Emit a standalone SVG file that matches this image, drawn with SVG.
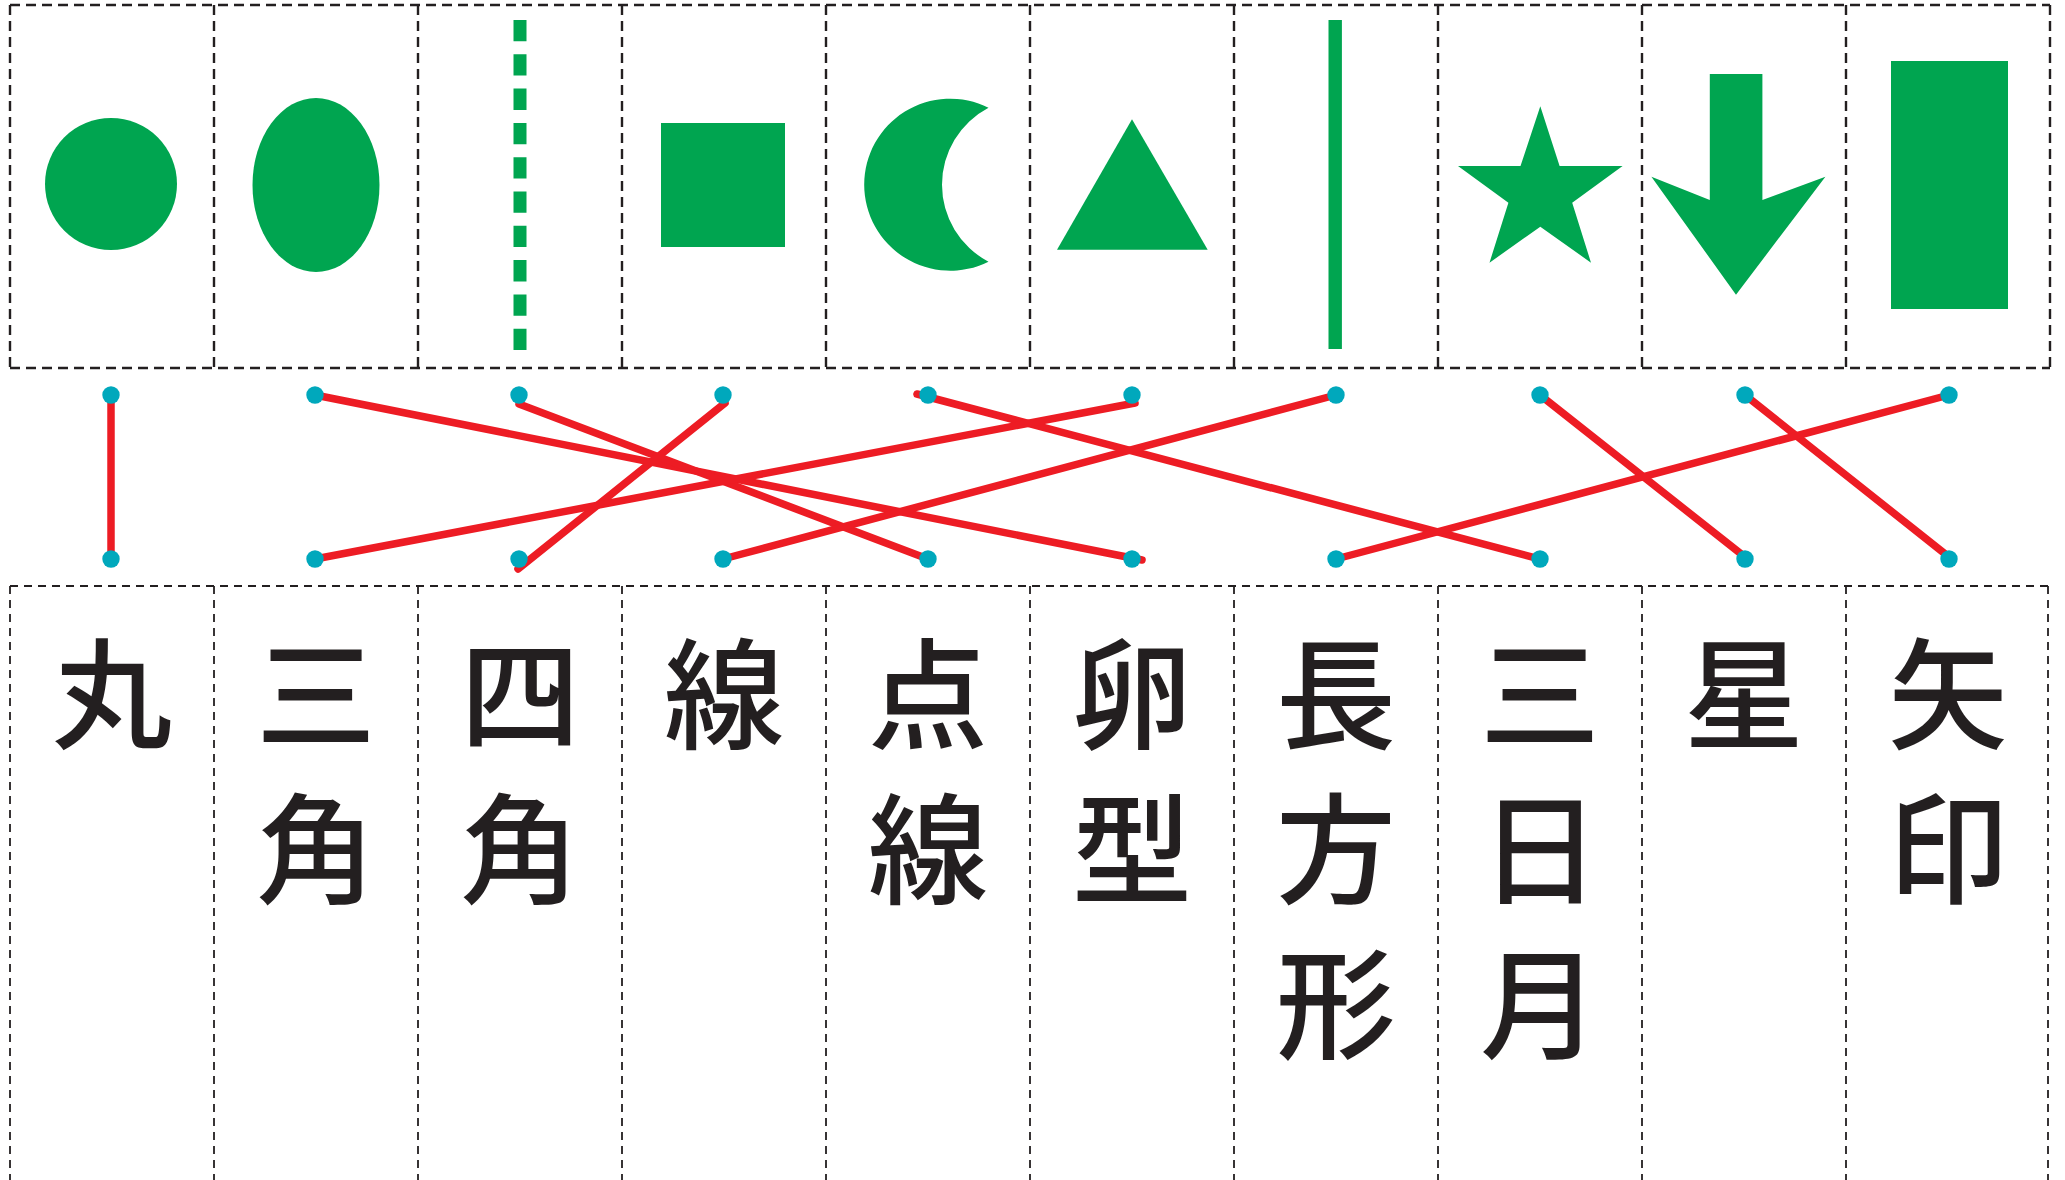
<svg xmlns="http://www.w3.org/2000/svg" width="2065" height="1180" viewBox="0 0 2065 1180">
<style>
.cell{fill:none;stroke:#231f20;stroke-width:2.4;stroke-dasharray:10 6}
.cellb{fill:none;stroke:#231f20;stroke-width:1.8;stroke-dasharray:8 6}
.g{fill:#00a550}
.lbl{font-family:"Noto Sans CJK JP","Noto Sans CJK SC",sans-serif;font-size:120px;font-weight:500;fill:#231f20;text-anchor:middle}
.c{stroke:#ed1c24;stroke-width:7.5;stroke-linecap:round;fill:none}
.d{fill:#00a8bc}
</style>
<rect width="2065" height="1180" fill="#fff"/>
<g id="grid">
<path class="cell" d="M10,5H2050M10,368H2050M10,5V368M214,5V368M418,5V368M622,5V368M826,5V368M1030,5V368M1234,5V368M1438,5V368M1642,5V368M1846,5V368M2050,5V368"/>
<path class="cellb" d="M10,586H2048M10,586V1180M214,586V1180M418,586V1180M622,586V1180M826,586V1180M1030,586V1180M1234,586V1180M1438,586V1180M1642,586V1180M1846,586V1180M2048,586V1180"/>
</g>
<g id="shape-circle"><circle class="g" cx="111" cy="184" r="66"/></g>
<g id="shape-egg"><ellipse class="g" cx="316" cy="185" rx="63.5" ry="87"/></g>
<g id="shape-dotted-line"><line x1="520" y1="20" x2="520" y2="350" stroke="#00a550" stroke-width="13" stroke-dasharray="21.3 13"/></g>
<g id="shape-square"><rect class="g" x="661" y="123" width="124" height="124"/></g>
<g id="shape-crescent"><path class="g" d="M988.5,107.7 A86 86 0 1 0 988.5,261.7 A87 87 0 0 1 988.5,107.7 Z"/></g>
<g id="shape-triangle"><polygon class="g" points="1132,119.3 1207.7,249.7 1057,249.7"/></g>
<g id="shape-line"><rect class="g" x="1328.5" y="20" width="13.4" height="329"/></g>
<g id="shape-star"><polygon class="g" points="1540.3,106.3 1559.6,166 1622.6,166 1572.2,202.7 1591,262.7 1540.3,226.7 1489.5,262.7 1508.4,202.7 1458,166 1520.5,166"/></g>
<g id="shape-arrow"><polygon class="g" points="1709.8,74 1762.4,74 1762.4,200 1825.4,176.7 1736,294.7 1651.4,176.7 1709.8,200"/></g>
<g id="shape-rectangle"><rect class="g" x="1891" y="61" width="117" height="248"/></g>

<g id="label-maru"><text class="lbl" x="112" y="740">丸</text></g>
<g id="label-sankaku"><text class="lbl" x="316" y="740">三</text><text class="lbl" x="316" y="895">角</text></g>
<g id="label-shikaku"><text class="lbl" x="520" y="740">四</text><text class="lbl" x="520" y="895">角</text></g>
<g id="label-sen"><text class="lbl" x="724" y="740">線</text></g>
<g id="label-tensen"><text class="lbl" x="928" y="740">点</text><text class="lbl" x="928" y="895">線</text></g>
<g id="label-rangata"><text class="lbl" x="1132" y="740">卵</text><text class="lbl" x="1132" y="895">型</text></g>
<g id="label-chouhoukei"><text class="lbl" x="1336" y="740">長</text><text class="lbl" x="1336" y="895">方</text><text class="lbl" x="1336" y="1050">形</text></g>
<g id="label-mikazuki"><text class="lbl" x="1540" y="740">三</text><text class="lbl" x="1540" y="895">日</text><text class="lbl" x="1540" y="1050">月</text></g>
<g id="label-hoshi"><text class="lbl" x="1744" y="740">星</text></g>
<g id="label-yajirushi"><text class="lbl" x="1948" y="740">矢</text><text class="lbl" x="1948" y="895">印</text></g>

<g id="connectors">
<line class="c" x1="111" y1="395" x2="111" y2="559"/>
<line class="c" x1="315" y1="395" x2="1142" y2="560" stroke-width="8"/>
<line class="c" x1="519" y1="404" x2="928" y2="559"/>
<line class="c" x1="725" y1="403" x2="518" y2="569"/>
<line class="c" x1="917" y1="394" x2="1540" y2="559"/>
<line class="c" x1="1135" y1="403" x2="315" y2="559" stroke-width="8.5"/>
<line class="c" x1="1336" y1="395" x2="723" y2="559" stroke-width="8"/>
<line class="c" x1="1540" y1="395" x2="1745" y2="557"/>
<line class="c" x1="1745" y1="395" x2="1949" y2="557"/>
<line class="c" x1="1949" y1="395" x2="1336" y2="559" stroke-width="9"/>
</g>
<g id="dots">
<circle class="d" cx="111" cy="395" r="8.7"/><circle class="d" cx="315" cy="395" r="8.7"/><circle class="d" cx="519" cy="395" r="8.7"/><circle class="d" cx="723" cy="395" r="8.7"/><circle class="d" cx="928" cy="395" r="8.7"/><circle class="d" cx="1132" cy="395" r="8.7"/><circle class="d" cx="1336" cy="395" r="8.7"/><circle class="d" cx="1540" cy="395" r="8.7"/><circle class="d" cx="1745" cy="395" r="8.7"/><circle class="d" cx="1949" cy="395" r="8.7"/>
<circle class="d" cx="111" cy="559" r="8.7"/><circle class="d" cx="315" cy="559" r="8.7"/><circle class="d" cx="519" cy="559" r="8.7"/><circle class="d" cx="723" cy="559" r="8.7"/><circle class="d" cx="928" cy="559" r="8.7"/><circle class="d" cx="1132" cy="559" r="8.7"/><circle class="d" cx="1336" cy="559" r="8.7"/><circle class="d" cx="1540" cy="559" r="8.7"/><circle class="d" cx="1745" cy="559" r="8.7"/><circle class="d" cx="1949" cy="559" r="8.7"/>
</g>
</svg>
